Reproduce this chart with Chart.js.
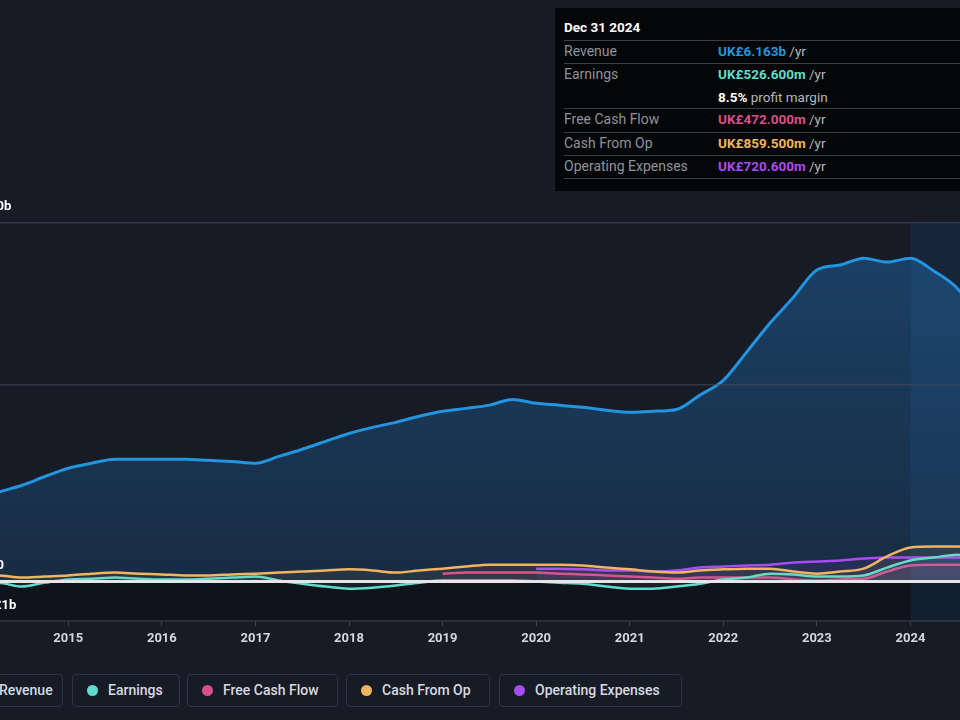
<!DOCTYPE html>
<html>
<head>
    <script src="https://cdn.jsdelivr.net/npm/chart.js"></script>
    <style>
        html, body {
            margin: 0;
            padding: 0;
            width: 960px;
            height: 720px;
            overflow: hidden;
            background: #161b26;
            font-family: Roboto, sans-serif;
        }
        .chart-container {
            position: absolute;
            left: -44px;
            top: 0;
            width: 1048px;
            height: 660px;
        }
        .tip {
            position: absolute;
            left: 555px;
            top: 8px;
            width: 430px;
            height: 183px;
            background: #050608;
            font-size: 13.5px;
        }
        .tip div { position: absolute; left: 9px; right: 0; white-space: nowrap; }
        .tip .sep { height: 0; border-top: 1.5px solid #3a3f48; }
        .tip .lbl { color: #8e939b; font-size: 14px; }
        .tip .val { left: 163px; font-weight: 700; }
        .tip .unit { color: #b4b8be; font-weight: 400; }
        .legend-box {
            position: absolute;
            top: 674px;
            height: 33px;
            box-sizing: border-box;
            border: 1.5px solid #2f3541;
            border-radius: 4px;
            color: #d6dae0;
            font-size: 14px;
            font-weight: 500;
            line-height: 30px;
            white-space: nowrap;
        }
        .legend-box span.dot {
            display: inline-block;
            width: 11px;
            height: 11px;
            border-radius: 50%;
            margin: 0 10px 0 14px;
            vertical-align: -1px;
        }
    </style>
</head>
<body>

    <div class="chart-container">
        <canvas id="financeChart"></canvas>
    </div>
    <div class="tip" id="tip"></div>
    <div id="legend"></div>

    <script>
        // quarterly periods (decimal years)
        const periods = [2014.0, 2014.25, 2014.5, 2014.75, 2015.0, 2015.25, 2015.5, 2015.75,
                         2016.0, 2016.25, 2016.5, 2016.75, 2017.0, 2017.25, 2017.5, 2017.75,
                         2018.0, 2018.25, 2018.5, 2018.75, 2019.0, 2019.25, 2019.5, 2019.75,
                         2020.0, 2020.25, 2020.5, 2020.75, 2021.0, 2021.25, 2021.5, 2021.75,
                         2022.0, 2022.25, 2022.5, 2022.75, 2023.0, 2023.25, 2023.5, 2023.75,
                         2024.0, 2024.25, 2024.5, 2024.75, 2025.0];
        const yearTicks = [2014, 2015, 2016, 2017, 2018, 2019, 2020, 2021, 2022, 2023, 2024];

        // values in UK£ billions
        const revenue = [2.26, 2.49, 2.68, 2.93, 3.16, 3.30, 3.41, 3.41,
                         3.41, 3.41, 3.38, 3.35, 3.30, 3.49, 3.69, 3.91,
                         4.13, 4.30, 4.44, 4.61, 4.75, 4.83, 4.92, 5.08,
                         4.97, 4.92, 4.86, 4.78, 4.72, 4.75, 4.80, 5.20,
                         5.61, 6.40, 7.21, 7.93, 8.69, 8.83, 9.02, 8.91,
                         9.02, 8.66, 8.18, 7.30, 6.16];
        const earnings = [-0.06, -0.03, -0.14, -0.03, 0.06, 0.08, 0.11, 0.08,
                          0.06, 0.06, 0.08, 0.11, 0.14, 0.03, -0.06, -0.14,
                          -0.20, -0.17, -0.11, -0.03, 0.03, 0.03, 0.03, 0.03,
                          0.00, -0.03, -0.06, -0.14, -0.20, -0.20, -0.14, -0.06,
                          0.06, 0.11, 0.22, 0.20, 0.14, 0.14, 0.17, 0.39,
                          0.59, 0.67, 0.75, 0.65, 0.53];
        const freeCashFlow = [null, null, null, null, null, null, null, null,
                              null, null, null, null, null, null, null, null,
                              null, null, null, null, 0.22, 0.25, 0.25, 0.25,
                              0.25, 0.22, 0.20, 0.17, 0.14, 0.11, 0.08, 0.11,
                              0.11, 0.11, 0.11, 0.06, 0.03, 0.06, 0.08, 0.28,
                              0.45, 0.47, 0.47, 0.47, 0.47];
        const cashFromOp = [0.17, 0.17, 0.11, 0.14, 0.17, 0.22, 0.25, 0.22,
                            0.20, 0.17, 0.17, 0.20, 0.22, 0.25, 0.28, 0.31,
                            0.34, 0.31, 0.25, 0.31, 0.36, 0.42, 0.47, 0.47,
                            0.47, 0.47, 0.45, 0.39, 0.34, 0.28, 0.25, 0.31,
                            0.34, 0.36, 0.36, 0.28, 0.22, 0.28, 0.36, 0.70,
                            0.95, 0.98, 0.98, 0.92, 0.86];
        const operatingExpenses = [null, null, null, null, null, null, null, null,
                                   null, null, null, null, null, null, null, null,
                                   null, null, null, null, null, null, null, null,
                                   0.36, 0.36, 0.34, 0.31, 0.31, 0.28, 0.31, 0.39,
                                   0.42, 0.45, 0.47, 0.53, 0.56, 0.59, 0.64, 0.67,
                                   0.67, 0.67, 0.67, 0.70, 0.72];

        const seriesNames = ['Revenue', 'Earnings', 'Free Cash Flow', 'Cash From Op', 'Operating Expenses'];
        const seriesColors = ['#2394df', '#5fdccd', '#d84f8c', '#f2b45e', '#a74cf2'];

        const yTickValues = [-1, 0, 5.5, 10];
        const yTickLabels = ['-UK£1b', 'UK£0', '', 'UK£10b'];

        const tipTitle = 'Dec 31 2024';
        const tipLabels = ['Revenue', 'Earnings', '', 'Free Cash Flow', 'Cash From Op', 'Operating Expenses'];
        const tipValues = ['UK£6.163b', 'UK£526.600m', '8.5%', 'UK£472.000m', 'UK£859.500m', 'UK£720.600m'];
        const tipUnits = [' /yr', ' /yr', ' profit margin', ' /yr', ' /yr', ' /yr'];
        const tipColors = ['#2394df', '#5fdccd', '#ffffff', '#d84f8c', '#f2b45e', '#a74cf2'];
        const highlightFrom = 2024.0;

        function pts(arr) {
            return arr.map((v, i) => ({ x: periods[i], y: v }));
        }

        // tooltip box
        const tip = document.getElementById('tip');
        let html = '<div style="top:11px;color:#fff;font-weight:700">' + tipTitle + '</div>';
        html += '<div class="sep" style="top:32px"></div>';
        const rowTops = [35, 58, 81, 103, 127, 150];
        const sepTops = [55, null, 100, 124, 147, 170];
        tipLabels.forEach((l, i) => {
            html += '<div class="lbl" style="top:' + rowTops[i] + 'px">' + l + '</div>';
            html += '<div class="val" style="top:' + rowTops[i] + 'px;color:' + tipColors[i] + '">' +
                    tipValues[i] + '<span class="unit">' + tipUnits[i] + '</span></div>';
            if (sepTops[i] !== null) html += '<div class="sep" style="top:' + sepTops[i] + 'px"></div>';
        });
        tip.innerHTML = html;

        // legend boxes
        const legendLefts = [-37, 72, 187, 346, 499];
        const legendWidths = [100, 108, 151, 144, 183];
        const legend = document.getElementById('legend');
        seriesNames.forEach((name, i) => {
            const box = document.createElement('div');
            box.className = 'legend-box';
            box.style.left = legendLefts[i] + 'px';
            box.style.width = legendWidths[i] + 'px';
            box.innerHTML = '<span class="dot" style="background:' + seriesColors[i] + '"></span>' + name;
            legend.appendChild(box);
        });

        const bandPlugin = {
            id: 'band',
            beforeDatasetsDraw(chart) {
                const { ctx, chartArea, scales } = chart;
                const x0 = scales.x.getPixelForValue(highlightFrom);
                const y0 = scales.y.getPixelForValue(0);
                ctx.save();
                ctx.fillStyle = 'rgba(0,0,0,0.28)';
                ctx.fillRect(chartArea.left, y0, chartArea.width, chartArea.bottom - y0);
                ctx.fillStyle = 'rgba(40,110,175,0.13)';
                ctx.fillRect(x0, chartArea.top, chartArea.right - x0, chartArea.bottom - chartArea.top);
                ctx.restore();
            }
        };

        // y labels sit above their grid line, near the left edge
        const yLabelPlugin = {
            id: 'yLabels',
            afterDatasetsDraw(chart) {
                const { ctx, chartArea, scales } = chart;
                ctx.save();
                ctx.font = 'bold 13px Roboto';
                ctx.fillStyle = '#ffffff';
                ctx.textAlign = 'center';
                ctx.textBaseline = 'middle';
                yTickValues.forEach((v, i) => {
                    if (!yTickLabels[i]) return;
                    const off = v < 0 ? -12 : -16;
                    const dx = v < 0 ? 38 : 32;
                    ctx.fillText(yTickLabels[i], chartArea.left + dx, scales.y.getPixelForValue(v) + off);
                });
                ctx.restore();
            }
        };

        const ctx = document.getElementById('financeChart').getContext('2d');

        function revenueFill(context) {
            const area = context.chart.chartArea;
            if (!area) return 'rgba(33,110,180,0.3)';
            const g = context.chart.ctx.createLinearGradient(0, area.top, 0, area.bottom);
            g.addColorStop(0, 'rgba(35,120,195,0.42)');
            g.addColorStop(1, 'rgba(35,120,195,0.16)');
            return g;
        }

        function lineSet(i, data, order, fillAlpha) {
            return {
                label: seriesNames[i],
                data: pts(data),
                borderColor: seriesColors[i],
                backgroundColor: seriesColors[i] + fillAlpha,
                borderWidth: 2.5,
                pointRadius: 0,
                cubicInterpolationMode: 'monotone',
                fill: 'origin',
                spanGaps: false,
                order: order
            };
        }

        const revSet = lineSet(0, revenue, 5, '00');
        revSet.backgroundColor = revenueFill;
        revSet.borderWidth = 3;

        new Chart(ctx, {
            type: 'line',
            data: {
                datasets: [
                    revSet,
                    lineSet(1, earnings, 2, '14'),
                    lineSet(2, freeCashFlow, 4, '18'),
                    lineSet(3, cashFromOp, 1, '12'),
                    lineSet(4, operatingExpenses, 3, '18')
                ]
            },
            options: {
                responsive: true,
                maintainAspectRatio: false,
                animation: false,
                layout: { padding: { top: 223, left: 0, right: 0, bottom: 0 } },
                plugins: {
                    legend: { display: false },
                    tooltip: { enabled: false }
                },
                scales: {
                    x: {
                        type: 'linear',
                        min: 2013.8,
                        max: 2025,
                        afterFit: function (scale) { scale.height = 39; scale.paddingLeft = 0; scale.paddingRight = 0; },
                        afterBuildTicks: function (scale) {
                            scale.ticks = yearTicks.map(p => ({ value: p }));
                        },
                        border: { display: true, color: '#3a404c', width: 1.5 },
                        grid: { drawOnChartArea: false, drawTicks: true, tickLength: 5, color: '#3a404c' },
                        ticks: {
                            padding: 5,
                            color: '#d4d7dc',
                            font: { family: 'Roboto', size: 13, weight: 'bold' },
                            callback: function (value) { return String(value); }
                        }
                    },
                    y: {
                        min: -1.1,
                        max: 10,
                        afterFit: function (scale) { scale.width = 0; },
                        afterBuildTicks: function (scale) {
                            scale.ticks = yTickValues.map(v => ({ value: v }));
                        },
                        border: { display: false },
                        grid: {
                            drawTicks: false,
                            z: 1,
                            color: function (c) {
                                if (c.tick.value === 0) return '#e6e6e6';
                                if (c.tick.value < 0) return 'rgba(0,0,0,0)';
                                return 'rgba(70,78,92,0.55)';
                            },
                            lineWidth: function (c) { return c.tick.value === 0 ? 3 : 1.5; }
                        },
                        ticks: { display: false }
                    }
                }
            },
            plugins: [bandPlugin, yLabelPlugin]
        });
    </script>
</body>
</html>
